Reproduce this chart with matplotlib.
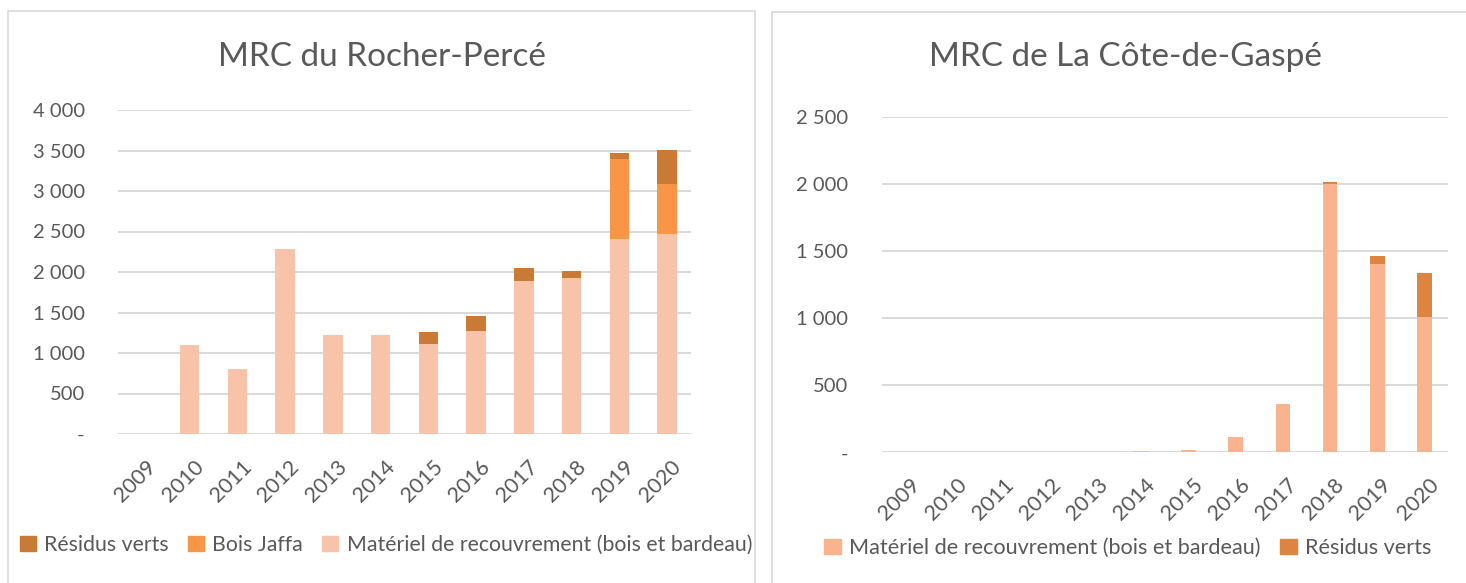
import matplotlib
matplotlib.use("Agg")
import matplotlib.pyplot as plt
from matplotlib.patches import Patch, Rectangle
from matplotlib.ticker import FuncFormatter, MultipleLocator
import numpy as np

plt.rcParams['font.family'] = ['Lato', 'DejaVu Sans']

years = ['2009', '2010', '2011', '2012', '2013', '2014', '2015', '2016', '2017', '2018', '2019', '2020']

# MRC du Rocher-Percé
materiel_rp = [0, 1100, 800, 2280, 1225, 1225, 1115, 1272, 1893, 1922, 2407, 2465]
jaffa_rp = [0, 0, 0, 0, 0, 0, 0, 0, 0, 0, 988, 621]
residus_rp = [0, 0, 0, 0, 0, 0, 148, 185, 156, 86, 78, 420]

# MRC de La Côte-de-Gaspé
materiel_cg = [0, 0, 0, 0, 0, 12, 20, 112, 362, 2000, 1407, 1012]
residus_cg = [0, 0, 0, 0, 0, 0, 0, 0, 0, 12, 57, 328]

W, H = 1466, 583
fig = plt.figure(figsize=(W / 100, H / 100), dpi=100)
fig.patch.set_facecolor('white')

TXT = '#595959'
GRID = '#D9D9D9'


def px_axes(x0, y0, x1, y1):
    return fig.add_axes([x0 / W, 1 - y1 / H, (x1 - x0) / W, (y1 - y0) / H])


def fmt(v, pos):
    if abs(v) < 1e-9:
        return '-'
    return f"{int(round(v)):,}".replace(',', ' ')


def style(ax, ymax, step):
    ax.set_ylim(0, ymax)
    ax.set_xlim(-0.5, len(years) - 0.5)
    ax.yaxis.set_major_locator(MultipleLocator(step))
    ax.yaxis.set_major_formatter(FuncFormatter(fmt))
    ax.grid(axis='y', color=GRID, linewidth=1.4)
    ax.set_axisbelow(True)
    for s in ax.spines.values():
        s.set_visible(False)
    ax.tick_params(axis='y', length=0, pad=24, labelsize=14.5, labelcolor=TXT)
    ax.tick_params(axis='x', length=0, pad=16, labelsize=15.5, labelcolor=TXT)
    ax.set_xticks(np.arange(len(years)))
    ax.set_xticklabels(years, rotation=45, ha='right', va='top', rotation_mode='anchor')
    for lbl in ax.get_xticklabels():
        lbl.set_transform(lbl.get_transform() + matplotlib.transforms.ScaledTranslation(4 / 100, 0, fig.dpi_scale_trans))


# Panel borders
fig.patches.append(Rectangle((8 / W, -0.1), (755 - 8) / W, 1 - 11 / H + 0.1, transform=fig.transFigure,
                             fill=False, edgecolor=GRID, linewidth=1.2))
fig.patches.append(Rectangle((772 / W, -0.1), 1.0, 1 - 12 / H + 0.1, transform=fig.transFigure,
                             fill=False, edgecolor=GRID, linewidth=1.2))

# Left chart
x = np.arange(len(years))
ax1 = px_axes(118, 110, 691, 434)
c_mat1, c_jaf, c_res1 = '#F8C3A8', '#F79646', '#C97A37'
ax1.bar(x, materiel_rp, width=0.41, color=c_mat1)
ax1.bar(x, jaffa_rp, width=0.41, bottom=materiel_rp, color=c_jaf)
ax1.bar(x, residus_rp, width=0.41, bottom=np.add(materiel_rp, jaffa_rp), color=c_res1)
style(ax1, 4000, 500)
fig.text(382 / W, 1 - 57 / H, 'MRC du Rocher-Percé', ha='center', va='center', fontsize=24, color=TXT)
fig.legend(handles=[Patch(color=c_res1, label='Résidus verts'),
                    Patch(color=c_jaf, label='Bois Jaffa'),
                    Patch(color=c_mat1, label='Matériel de recouvrement (bois et bardeau)')],
           loc='center', bbox_to_anchor=(386 / W, 1 - 545 / H), ncol=3, frameon=False,
           fontsize=15.3, labelcolor=TXT, handlelength=0.75, handleheight=0.75,
           handletextpad=0.4, columnspacing=0.9)

# Right chart
ax2 = px_axes(881.7, 117, 1448, 452.3)
c_mat2, c_res2 = '#F9B48F', '#DE8441'
ax2.bar(x, materiel_cg, width=0.31, color=c_mat2)
ax2.bar(x, residus_cg, width=0.31, bottom=materiel_cg, color=c_res2)
style(ax2, 2500, 500)
fig.text(1125 / W, 1 - 57 / H, 'MRC de La Côte-de-Gaspé', ha='center', va='center', fontsize=24, color=TXT)
fig.legend(handles=[Patch(color=c_mat2, label='Matériel de recouvrement (bois et bardeau)'),
                    Patch(color=c_res2, label='Résidus verts')],
           loc='center', bbox_to_anchor=(1128 / W, 1 - 548 / H), ncol=2, frameon=False,
           fontsize=15.6, labelcolor=TXT, handlelength=0.75, handleheight=0.75,
           handletextpad=0.4, columnspacing=0.9)

fig.savefig('out.png', dpi=100, facecolor='white')
